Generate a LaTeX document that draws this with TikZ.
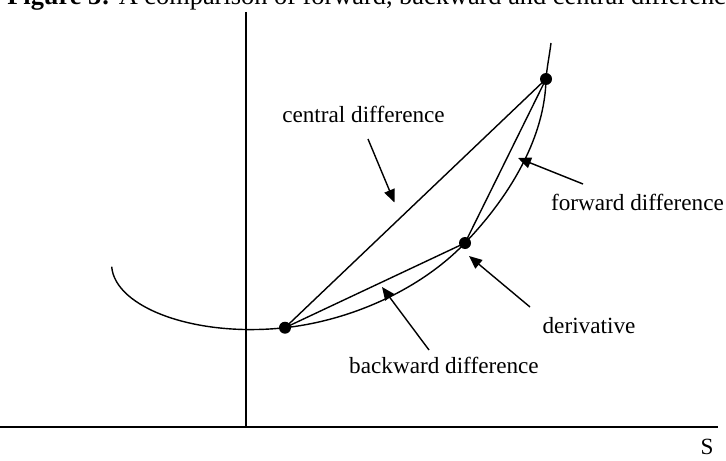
\documentclass[tikz,border=0pt]{standalone}
\usepackage{fontspec}
\setmainfont{Liberation Serif}
\usetikzlibrary{arrows.meta}

\begin{document}
\begin{tikzpicture}[
  lbl/.style={font=\fontsize{13.2}{15}\selectfont,anchor=base},
  ptr/.style={line width=.8pt,-{Triangle[length=2.6mm,width=2.2mm]}},
  crv/.style={line width=.8pt}]
  \useasboundingbox (0,0) rectangle (14.52,9.2);
  % caption, cut off at the top edge
  \node[anchor=base west,inner sep=0,font=\fontsize{15}{18}\selectfont] (cap) at (0.14,9.11)
    {\textbf{Figure 3:} A comparison of forward, backward and central difference};
  % axes
  \draw[line width=1pt] (4.92,8.96) -- (4.92,0.66);
  \draw[line width=1pt] (0,0.66) -- (14.36,0.66);
  \node[lbl] (s) at (14.14,0.12) {S};
  % the function
  \coordinate (A) at (5.70,2.646);
  \coordinate (B) at (9.30,4.34);
  \coordinate (C) at (10.92,7.62);
  \draw[crv] (2.234,3.866) .. controls (2.30,3.05) and (3.9,2.45) .. (A)
    .. controls (7.0,2.788) and (8.4,3.4) .. (B)
    .. controls (10.25,5.33) and (10.9,6.5) .. (C)
    .. controls (10.94,7.86) and (10.99,8.1) .. (11.02,8.34);
  \draw[crv] (A) -- (C);
  \draw[crv] (A) -- (B) -- (C);
  \foreach \p in {A,B,C}
    \fill (\p) circle (.12);
  % labels
  \node[lbl] (cd) at (7.27,6.76) {central difference};
  \node[lbl] (fd) at (12.75,5.00) {forward difference};
  \node[lbl] (dv) at (11.78,2.54) {derivative};
  \node[lbl] (bd) at (8.88,1.74) {backward difference};
  % pointers
  \coordinate (cdt) at (7.36,6.42);  \coordinate (cdh) at (7.89,5.15);
  \coordinate (fdt) at (11.66,5.52); \coordinate (fdh) at (10.36,6.04);
  \coordinate (dvt) at (10.60,3.06); \coordinate (dvh) at (9.38,4.08);
  \coordinate (bdt) at (8.58,2.20);  \coordinate (bdh) at (7.64,3.46);
  \foreach \n in {cd,fd,dv,bd}
    \draw[ptr] (\n t) -- (\n h);
\end{tikzpicture}
\end{document}
